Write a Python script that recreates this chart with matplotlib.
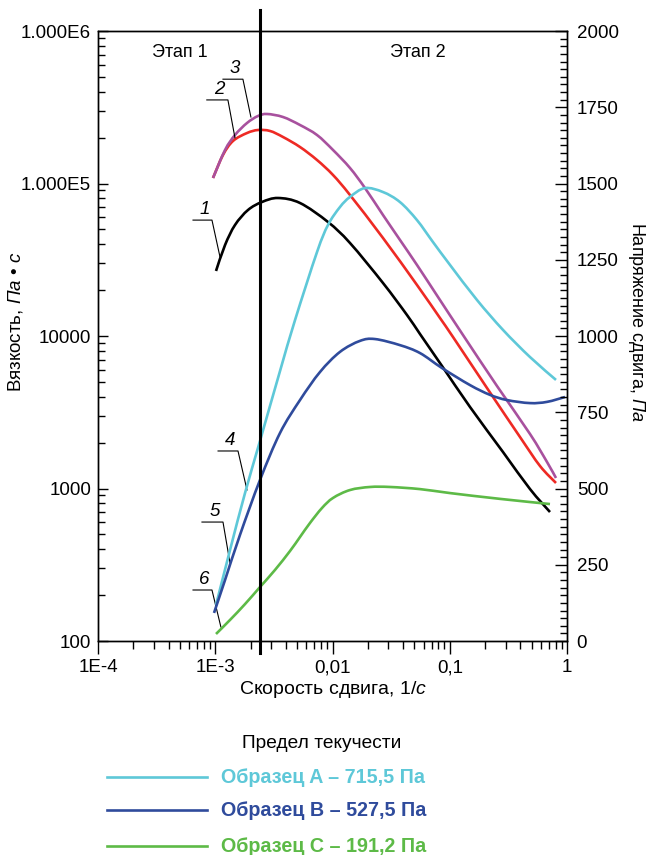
import matplotlib
matplotlib.use("Agg")
import numpy as np
import matplotlib.pyplot as plt
from matplotlib.lines import Line2D
from matplotlib.path import Path
from matplotlib.patches import PathPatch
from matplotlib.ticker import FixedLocator, LogLocator, MultipleLocator, NullFormatter

plt.rcParams['font.family'] = ['Liberation Sans', 'DejaVu Sans']
plt.rcParams['mathtext.fontset'] = 'custom'
plt.rcParams['mathtext.rm'] = 'Liberation Sans'
plt.rcParams['mathtext.it'] = 'Liberation Sans:italic'

# Viscosity curves (left axis), Pa*s
x_1 = [0.001015, 0.001212, 0.001474, 0.001902, 0.002504, 0.003429, 0.005282, 0.009154, 0.0141,
       0.02696, 0.04318, 0.05577, 0.08586, 0.1489, 0.2845, 0.4835, 0.7161]
visc_1 = [26690, 39500, 53450, 67020, 75640, 80340, 74500, 55910, 40720,
          22260, 13730, 10300, 6360, 3423, 1735, 992, 701]

x_2 = [0.000957, 0.001164, 0.001417, 0.001866, 0.002315, 0.002931, 0.003783, 0.005282, 0.007375,
       0.0101, 0.0141, 0.02696, 0.05256, 0.08255, 0.1066, 0.2078, 0.3973, 0.5885, 0.8057]
visc_2 = [108700, 153800, 190000, 214300, 224300, 221000, 201800, 173500, 142600,
          113700, 84060, 43910, 21600, 13120, 9850, 4560, 2176, 1405, 1087]

x_3 = [0.000957, 0.001212, 0.001474, 0.001866, 0.002315, 0.002763, 0.003783, 0.005282, 0.007375,
       0.0101, 0.0141, 0.01893, 0.02696, 0.03765, 0.05256, 0.07939, 0.1297, 0.2529, 0.4835,
       0.6753, 0.8057]
visc_3 = [108700, 165900, 208000, 249300, 277100, 285600, 272900, 241900, 208000,
          165900, 126400, 93400, 62140, 42610, 29220, 18020, 10150, 4699, 2278,
          1492, 1172]

# Shear stress curves (right axis), Pa
x_4 = [0.001015, 0.001336, 0.001794, 0.002408, 0.003567, 0.004789, 0.007375, 0.009154, 0.01159,
       0.0141, 0.01893, 0.02696, 0.03765, 0.05256, 0.07195, 0.1005, 0.1708, 0.2845, 0.4835,
       0.8057]
stress_4 = [118, 298, 485, 656, 885, 1052, 1275, 1364, 1423,
            1456, 1485, 1472, 1439, 1380, 1308, 1233, 1118, 1020, 931,
            856]

x_5 = [0.000976, 0.001212, 0.001626, 0.002408, 0.003567, 0.005282, 0.007824, 0.01159, 0.01716,
       0.02304, 0.03765, 0.05577, 0.08586, 0.1489, 0.2204, 0.3078, 0.4835, 0.6753, 0.9614]
stress_5 = [92, 200, 348, 528, 682, 790, 882, 948, 984,
            990, 970, 944, 895, 839, 807, 790, 780, 784, 800]

x_6 = [0.001015, 0.001336, 0.001794, 0.002408, 0.003233, 0.00434, 0.005282, 0.006428, 0.008134,
       0.0101, 0.0141, 0.02088, 0.03094, 0.05577, 0.1005, 0.2683, 0.7161]
stress_6 = [23, 69, 121, 177, 233, 295, 341, 387, 436,
            469, 495, 505, 505, 498, 485, 466, 449]

stage_boundary = 0.00243

x_ticks = [1e-4, 1e-3, 1e-2, 1e-1, 1]
x_labels = ['1E-4', '1E-3', '0,01', '0,1', '1']
y_ticks = [100, 1000, 10000, 100000, 1000000]
y_labels = ['100', '1000', '10000', '1.000E5', '1.000E6']

legend_labels = ['Образец A – 715,5 Па', 'Образец B – 527,5 Па', 'Образец C – 191,2 Па']

c_black = '#000000'
c_red = '#ee2a24'
c_purple = '#a8519e'
c_cyan = '#5ec8d8'
c_blue = '#2f4b9c'
c_green = '#5dba47'


def smooth_curve(ax, xs, ys, ylog, color, lw):
    # Catmull-Rom through the read points, drawn as Bezier segments in the axes' scale space
    u = np.log10(np.asarray(xs, float))
    v = np.log10(np.asarray(ys, float)) if ylog else np.asarray(ys, float)
    pts = np.column_stack([u, v])
    n = len(pts)
    verts = [pts[0]]
    codes = [Path.MOVETO]
    for i in range(n - 1):
        p0, p1 = pts[max(i - 1, 0)], pts[i]
        p2, p3 = pts[i + 1], pts[min(i + 2, n - 1)]
        verts += [p1 + (p2 - p0) / 6, p2 - (p3 - p1) / 6, p2]
        codes += [Path.CURVE4] * 3
    verts = np.array(verts)
    verts[:, 0] = 10 ** verts[:, 0]
    if ylog:
        verts[:, 1] = 10 ** verts[:, 1]
    ax.add_patch(PathPatch(Path(verts, codes), fill=False, edgecolor=color, lw=lw,
                           capstyle='butt', joinstyle='round'))


W, H = 647, 855
fig = plt.figure(figsize=(W / 100, H / 100), dpi=100)
ax = fig.add_axes([98 / W, 1 - 641 / H, (567 - 98) / W, (641 - 31) / H])
ax2 = ax.twinx()

ax.set_xscale('log')
ax.set_yscale('log')
ax.set_xlim(1e-4, 1)
ax.set_ylim(100, 1e6)
ax2.set_ylim(0, 2000)

lw = 1.9
smooth_curve(ax, x_1, visc_1, True, c_black, lw)
smooth_curve(ax, x_2, visc_2, True, c_red, lw)
smooth_curve(ax, x_3, visc_3, True, c_purple, lw)
smooth_curve(ax2, x_4, stress_4, False, c_cyan, lw)
smooth_curve(ax2, x_5, stress_5, False, c_blue, lw)
smooth_curve(ax2, x_6, stress_6, False, c_green, lw)

# stage boundary line sticks out above and below the frame
ax2.axvline(stage_boundary, ymin=-0.02, ymax=1.034, color='black', lw=2.2,
            clip_on=False, zorder=5)

ax.xaxis.set_major_locator(FixedLocator(x_ticks))
ax.set_xticklabels(x_labels)
ax.xaxis.set_minor_locator(LogLocator(base=10, subs=range(2, 10)))
ax.xaxis.set_minor_formatter(NullFormatter())
ax.yaxis.set_major_locator(FixedLocator(y_ticks))
ax.set_yticklabels(y_labels)
ax.yaxis.set_minor_locator(LogLocator(base=10, subs=range(2, 10)))
ax.yaxis.set_minor_formatter(NullFormatter())

fs = 13.5
ax.tick_params(axis='x', which='major', direction='out', length=9, width=1, labelsize=fs, pad=4)
ax.tick_params(axis='x', which='minor', direction='out', length=6, width=1)
ax.tick_params(axis='y', which='major', direction='in', length=7, width=1, labelsize=fs, pad=5)
ax.tick_params(axis='y', which='minor', direction='in', length=5, width=1)

ax2.yaxis.set_major_locator(MultipleLocator(250))
ax2.yaxis.set_minor_locator(MultipleLocator(25))
ax2.tick_params(axis='y', which='major', direction='in', length=9, width=1, labelsize=fs, pad=7)
ax2.tick_params(axis='y', which='minor', direction='in', length=5, width=1)

for a in (ax, ax2):
    for s in a.spines.values():
        s.set_linewidth(1.0)

ax.text(0.175, 0.965, 'Этап 1', transform=ax.transAxes, ha='center', va='center', fontsize=13)
ax.text(0.682, 0.965, 'Этап 2', transform=ax.transAxes, ha='center', va='center', fontsize=13)

# curve numbers with leader lines (axes fraction)
callouts = [
    ('1', (0.2026, 0.243, 0.260), (0.690, 0.630)),
    ('2', (0.232, 0.277, 0.292), (0.887, 0.825)),
    ('3', (0.2665, 0.309, 0.326), (0.921, 0.859)),
    ('4', (0.256, 0.2985, 0.3177), (0.3115, 0.2475)),
    ('5', (0.2217, 0.2665, 0.2814), (0.195, 0.128)),
    ('6', (0.2026, 0.243, 0.262), (0.0836, 0.023)),
]
for num, (xa, xb, xc), (ya, yc) in callouts:
    ax.plot([xa, xb, xc], [ya, ya, yc], color='black', lw=0.8, transform=ax.transAxes, zorder=6)
    ax.text((xa + xb) / 2 + 0.004, ya + 0.003, num, transform=ax.transAxes, ha='center',
            va='bottom', fontsize=13.5, style='italic', zorder=6)

fig.text(16 / W, 1 - 322 / H, r'Вязкость, $\mathit{Па\ •\ с}$', rotation=90,
         ha='center', va='center', fontsize=13.5)
fig.text(637 / W, 1 - 322 / H, r'Напряжение сдвига, $\mathit{Па}$', rotation=-90,
         ha='center', va='center', fontsize=13)
fig.text(333 / W, 1 - 690 / H, r'Скорость сдвига, $\mathit{1/с}$',
         ha='center', va='center', fontsize=14)

# legend, drawn by hand
fig.text(322 / W, 1 - 743 / H, 'Предел текучести', ha='center', va='center', fontsize=13.8)
legend_rows = [777, 810, 846]
for label, col, row in zip(legend_labels, [c_cyan, c_blue, c_green], legend_rows):
    fig.add_artist(Line2D([107 / W, 207 / W], [1 - row / H, 1 - row / H], color=col,
                          lw=lw, transform=fig.transFigure))
    fig.text(221 / W, 1 - row / H, label, ha='left', va='center', fontsize=14.2,
             fontweight='bold', color=col)

fig.savefig('out.png', dpi=100)
